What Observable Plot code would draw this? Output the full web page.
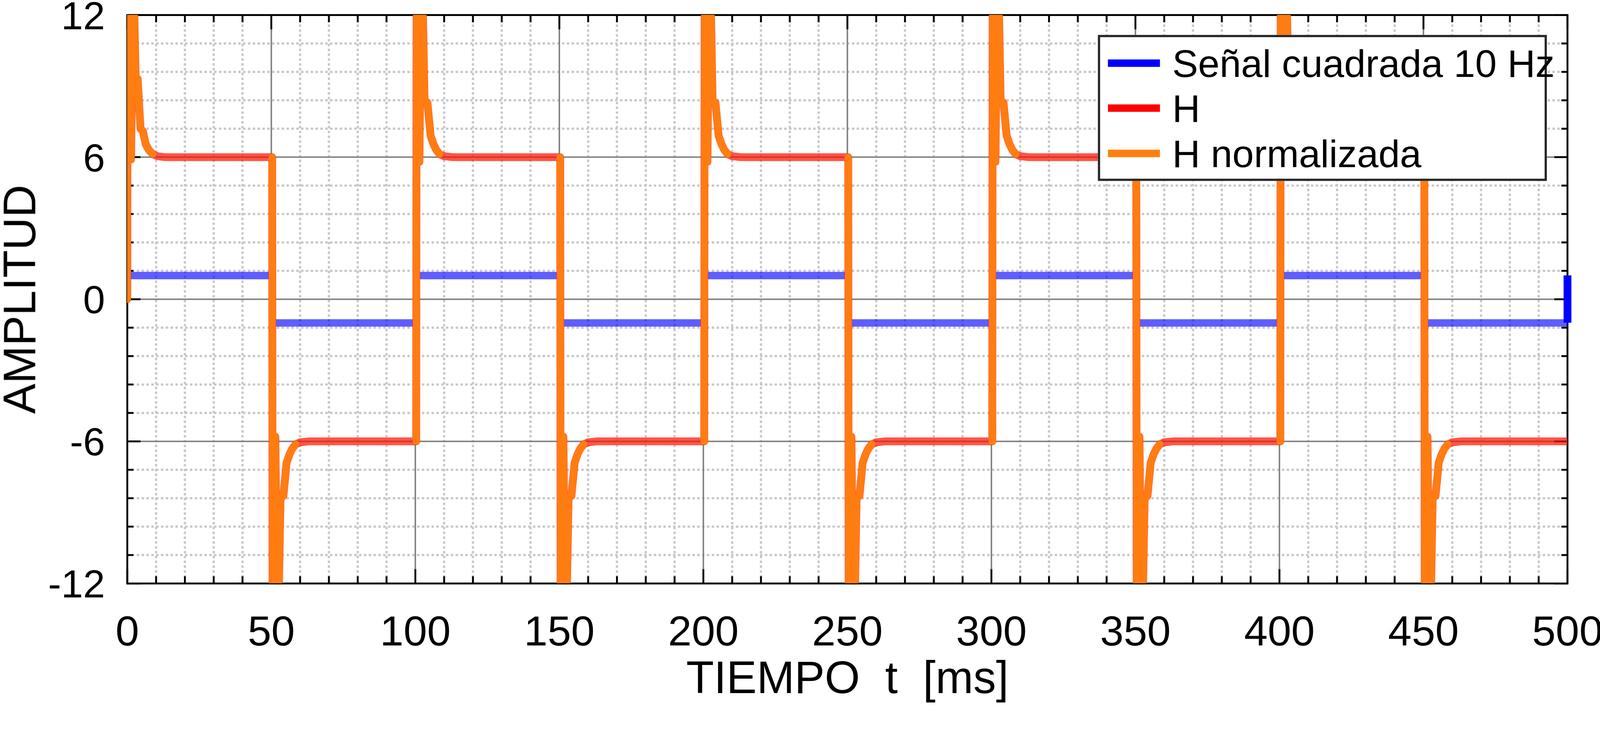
<!DOCTYPE html>
<html>
<head>
<meta charset="utf-8">
<script src="https://cdn.jsdelivr.net/npm/d3@7"></script>
<script src="https://cdn.jsdelivr.net/npm/@observablehq/plot@0.6"></script>
<style>
  html, body { margin: 0; padding: 0; background: #fff; overflow: hidden; }
  #wrap { position: relative; width: 4305px; height: 1890px; font-family: "Liberation Sans", Arial, sans-serif; transform-origin: 0 0; }
  #wrap svg text { white-space: pre; }
  #legend { position: absolute; left: 2954px; top: 94px; width: 1208px; height: 393px; box-sizing: border-box;
            border: 6px solid #262626; background: #fff; }
  .sw { position: absolute; left: 21px; width: 140px; height: 20px; }
  .lt { position: absolute; left: 194px; font-size: 104px; line-height: 104px; color: #000; white-space: pre; }
</style>
</head>
<body>
<div id="wrap"></div>
<script>
// ---- axis ticks ----
const xMajor = [0, 50, 100, 150, 200, 250, 300, 350, 400, 450, 500];
const xTickLabels = ["0", "50", "100", "150", "200", "250", "300", "350", "400", "450", "500"];
const xMinor = [10, 20, 30, 40, 60, 70, 80, 90, 110, 120, 130, 140, 160, 170, 180, 190,
                210, 220, 230, 240, 260, 270, 280, 290, 310, 320, 330, 340, 360, 370, 380, 390,
                410, 420, 430, 440, 460, 470, 480, 490];
const yMajor = [-12, -6, 0, 6, 12];
const yTickLabels = ["-12", "-6", "0", "6", "12"];
const yMinor = [-10.8, -9.6, -8.4, -7.2, -4.8, -3.6, -2.4, -1.2, 1.2, 2.4, 3.6, 4.8, 7.2, 8.4, 9.6, 10.8];
const xLabel = "TIEMPO  t  [ms]";
const yLabel = "AMPLITUD";

// ---- series: square wave (Señal cuadrada 10 Hz) ----
const sqT = [0, 50, 100, 150, 200, 250, 300, 350, 400, 450, 500];   // edges [ms]
const sqLevel = [1, -1, 1, -1, 1, -1, 1, -1, 1, -1];                // level in each half period
const sqEndLevel = 1;                                                // last sample at t = 500

// ---- series: H (response), transient ----
// first transient (from 0 to +6)
const hFirstDt = [0, 0.15, 1.3, 2.1, 2.9, 3.6, 4.6, 5.4, 6.4, 7.5, 8.9, 10.5, 13];
const hFirstV  = [0, 25, 5.9, 14, 9.4, 9.3, 7.2, 7.1, 6.55, 6.3, 6.12, 6.04, 6.0];
// later transients (from -6 to +6; mirrored for falling edges)
const hStepDt = [0.3, 0.5, 1.4, 2.2, 3.2, 4.2, 5.3, 6.3, 7.3, 8.5, 10, 13];
const hStepV  = [-6, 22, 5.8, 15, 8.4, 8.3, 6.9, 6.55, 6.3, 6.12, 6.04, 6.0];

// ---- series: H normalizada (visible over H in the transients) ----
const nFirstDt = [0, 0.15, 1.3, 2.1, 2.9, 3.6, 4.6, 5.4, 6.4, 7.5, 8.9];
const nFirstV  = [0, 25, 5.9, 14, 9.4, 9.3, 7.2, 7.1, 6.55, 6.3, 6.12];
const nStepDt = [0.3, 0.5, 1.4, 2.2, 3.2, 4.2, 5.3, 6.3, 7.3, 8.5];
const nStepV  = [-6, 22, 5.8, 15, 8.4, 8.3, 6.9, 6.55, 6.3, 6.12];

// ---- build tables ----
const sqSegs = [];
sqLevel.forEach((lv, i) => {
  sqSegs.push({t: sqT[i], v: lv, k: i});
  sqSegs.push({t: sqT[i + 1], v: lv, k: i});
});
const sqJumps = [];
for (let i = 1; i < sqLevel.length; i++) {
  sqJumps.push({t: sqT[i], lo: Math.min(sqLevel[i - 1], sqLevel[i]), hi: Math.max(sqLevel[i - 1], sqLevel[i])});
}
const sqLast = [{t: sqT[sqT.length - 1], lo: Math.min(sqLevel[sqLevel.length - 1], sqEndLevel), hi: Math.max(sqLevel[sqLevel.length - 1], sqEndLevel)}];

const hData = [];
const nData = [];
sqLevel.forEach((s, i) => {
  const t0 = sqT[i];
  const dts = i === 0 ? hFirstDt : hStepDt;
  const vs = i === 0 ? hFirstV : hStepV;
  dts.forEach((dt, j) => hData.push({t: t0 + dt, v: s * vs[j]}));
  const ndts = i === 0 ? nFirstDt : nStepDt;
  const nvs = i === 0 ? nFirstV : nStepV;
  ndts.forEach((dt, j) => nData.push({t: t0 + dt, v: s * nvs[j], k: i}));
});
hData.push({t: sqT[sqT.length - 1], v: sqLevel[sqLevel.length - 1] * hStepV[hStepV.length - 1]});

const tickW = 5;
const plot = Plot.plot({
  width: 4305,
  height: 1890,
  marginLeft: 342,
  marginRight: 88,
  marginTop: 40,
  marginBottom: 320,
  style: {fontFamily: '"Liberation Sans", Arial, sans-serif', background: "#fff", color: "#000", overflow: "visible", maxWidth: "none"},
  x: {domain: [0, 500], axis: null},
  y: {domain: [-12, 12], axis: null},
  marks: [
    // grids
    Plot.gridX(xMinor, {stroke: "#c8c8c8", strokeOpacity: 1, strokeWidth: 6, strokeDasharray: "6.5,6.5"}),
    Plot.gridY(yMinor, {stroke: "#c8c8c8", strokeOpacity: 1, strokeWidth: 6, strokeDasharray: "6.5,6.5"}),
    Plot.gridX(xMajor, {stroke: "#808080", strokeOpacity: 1, strokeWidth: 4}),
    Plot.gridY(yMajor, {stroke: "#808080", strokeOpacity: 1, strokeWidth: 4}),
    Plot.frame({stroke: "#000", strokeWidth: 5}),
    // inward ticks
    Plot.axisX(xMajor, {anchor: "bottom", tickSize: -38, strokeWidth: tickW, fill: "none", label: null}),
    Plot.axisX(xMinor, {anchor: "bottom", tickSize: -19, strokeWidth: tickW, fill: "none", label: null}),
    Plot.axisX(xMajor, {anchor: "top", tickSize: -38, strokeWidth: tickW, fill: "none", label: null}),
    Plot.axisX(xMinor, {anchor: "top", tickSize: -19, strokeWidth: tickW, fill: "none", label: null}),
    Plot.axisY(yMajor, {anchor: "left", tickSize: -36, strokeWidth: tickW, fill: "none", label: null}),
    Plot.axisY(yMinor, {anchor: "left", tickSize: -17, strokeWidth: tickW, fill: "none", label: null}),
    Plot.axisY(yMajor, {anchor: "right", tickSize: -36, strokeWidth: tickW, fill: "none", label: null}),
    Plot.axisY(yMinor, {anchor: "right", tickSize: -17, strokeWidth: tickW, fill: "none", label: null}),
    // tick labels
    Plot.axisX(xMajor, {anchor: "bottom", tickSize: 0, tickPadding: 86, fontSize: 114, label: null,
      tickFormat: d => xTickLabels[xMajor.indexOf(d)]}),
    Plot.axisY(yMajor, {anchor: "left", tickSize: 0, tickPadding: 60, dy: 4, fontSize: 106, label: null,
      tickFormat: d => yTickLabels[yMajor.indexOf(d)]}),
    // axis titles
    Plot.text([xLabel], {frameAnchor: "bottom", dy: 295, lineAnchor: "bottom", textAnchor: "middle", text: d => d, fontSize: 122, fill: "#000"}),
    Plot.text([yLabel], {frameAnchor: "left", dx: -248, rotate: -90, lineAnchor: "bottom", textAnchor: "middle", text: d => d, fontSize: 122, fill: "#000"}),
    // data
    Plot.line(sqSegs, {x: "t", y: "v", z: "k", stroke: "#0000ff", strokeOpacity: 0.63, strokeWidth: 20, strokeLinecap: "butt", clip: true}),
    Plot.ruleX(sqJumps, {x: "t", y1: "lo", y2: "hi", stroke: "#0000ff", strokeWidth: 3}),
    Plot.ruleX(sqLast, {x: "t", y1: "lo", y2: "hi", stroke: "#0000ff", strokeWidth: 21}),
    Plot.line(hData, {x: "t", y: "v", stroke: "#ff1400", strokeOpacity: 0.72, strokeWidth: 21, strokeLinejoin: "round", clip: true}),
    Plot.line(nData, {x: "t", y: "v", z: "k", stroke: "#ff7f0e", strokeOpacity: 0.97, strokeWidth: 19, strokeLinejoin: "round", clip: true})
  ]
});

const wrap = document.getElementById("wrap");
wrap.appendChild(plot);

// legend
const legendItems = ["Señal cuadrada 10 Hz", "H", "H normalizada"];
const legendColors = ["#0000ff", "#ff0000", "#ff7f0e"];
const legend = document.createElement("div");
legend.id = "legend";
const rowCenters = [70, 191, 313];
legendItems.forEach((name, i) => {
  const sw = document.createElement("div");
  sw.className = "sw";
  sw.style.top = (rowCenters[i] - 10) + "px";
  sw.style.background = legendColors[i];
  legend.appendChild(sw);
  const t = document.createElement("div");
  t.className = "lt";
  t.style.top = (rowCenters[i] - 51) + "px";
  t.textContent = name;
  legend.appendChild(t);
});
wrap.appendChild(legend);

// fit the 4305×1890 drawing to the viewport
function fit() {
  const s = Math.min(window.innerWidth / 4305, window.innerHeight / 1890);
  wrap.style.transform = "scale(" + s + ")";
}
fit();
window.addEventListener("resize", fit);
</script>
</body>
</html>
